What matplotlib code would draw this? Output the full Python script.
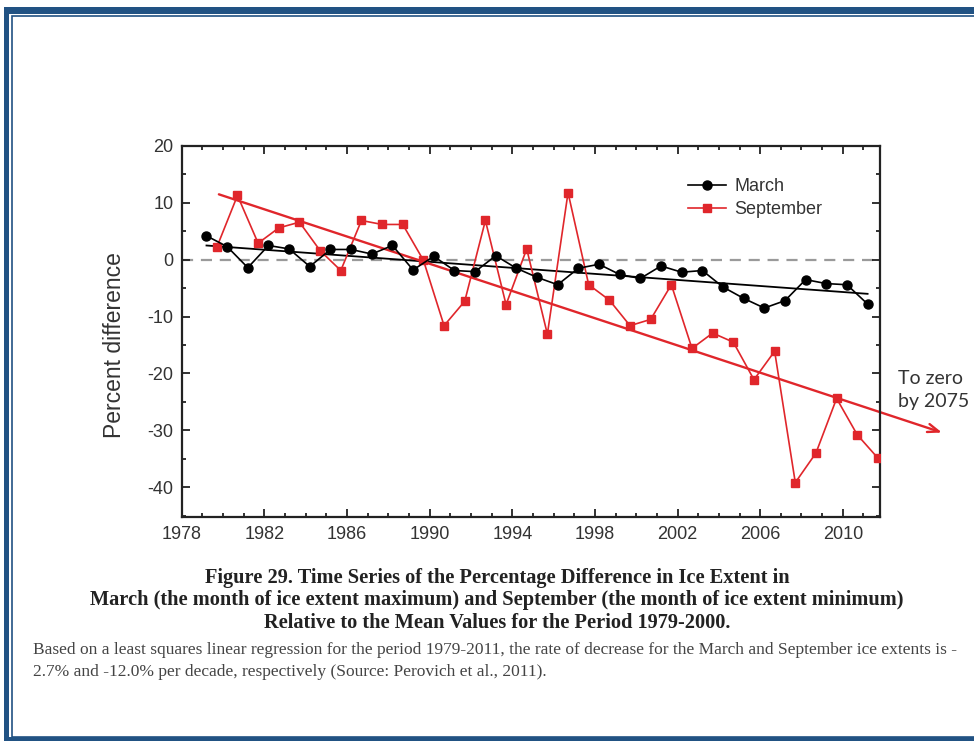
import numpy as np
import matplotlib
matplotlib.use("Agg")
import matplotlib.pyplot as plt
from matplotlib.patches import Rectangle
from matplotlib.ticker import MultipleLocator, FixedLocator

# ---------------------------------------------------------------
# data (percent difference vs 1979-2000 mean)
years = np.arange(1979, 2012)
march = [4.2, 2.3, -1.4, 2.5, 1.9, -1.2, 1.8, 1.8, 1.0, 2.5, -1.8,
         0.6, -1.9, -2.1, 0.7, -1.5, -3.1, -4.4, -1.5, -0.8, -2.6, -3.3,
         -1.1, -2.2, -1.9, -4.8, -6.8, -8.5, -7.2, -3.5, -4.2, -4.4, -7.8]
september = [2.2, 11.3, 2.9, 5.6, 6.6, 1.6, -1.9, 6.9, 6.2, 6.2, -0.1,
             -11.6, -7.3, 6.9, -7.9, 1.9, -13.1, 11.8, -4.4, -7.1, -11.6, -10.5,
             -4.4, -15.6, -12.9, -14.5, -21.1, -16.1, -39.2, -34.0, -24.4, -30.8, -34.9]
# month offsets within the year
march_x = years + 0.2
sept_x = years + 0.7

# regression lines (end points)
march_trend_x = [1979.2, 2011.2]
march_trend_y = [2.5, -6.0]
sept_trend_x = [1979.8, 2014.8]
sept_trend_y = [11.5, -30.4]

xticks = np.arange(1978, 2011, 4)

caption = ["Figure 29. Time Series of the Percentage Difference in Ice Extent in",
           "March (the month of ice extent maximum) and September (the month of ice extent minimum)",
           "Relative to the Mean Values for the Period 1979-2000."]
note = ["Based on a least squares linear regression for the period 1979-2011, the rate of decrease for the March and September ice extents is -",
        "2.7% and -12.0% per decade, respectively (Source: Perovich et al., 2011)."]

RED = "#e0262b"
BLUE = "#215283"
W, H = 974, 742

plt.rcParams["font.family"] = ["Liberation Sans", "DejaVu Sans"]
plt.rcParams["axes.unicode_minus"] = False

fig = plt.figure(figsize=(W / 100, H / 100), dpi=100)
fig.patch.set_facecolor("white")

def fx(px):
    return px / W

def fy(py):
    return 1 - py / H

# page frame
for (x0, y0, x1, y1) in [(4, 7, W + 5, 14), (4, 7, 9, 741), (4, 737, W + 5, 741)]:
    fig.add_artist(Rectangle((fx(x0), fy(y1)), fx(x1) - fx(x0), fy(y0) - fy(y1),
                             transform=fig.transFigure, color=BLUE, lw=0))
fig.add_artist(Rectangle((fx(12), fy(737)), fx(W + 20) - fx(12), fy(16.5) - fy(737),
                         transform=fig.transFigure, fill=False, ec=BLUE, lw=1.2))

##################################################################
ax = fig.add_axes([fx(181.7), fy(516.7), fx(880) - fx(181.7), fy(146) - fy(516.7)])

ax.axhline(0, color="#9a9a9a", ls=(0, (5, 3.5)), lw=1.6, zorder=1)

ax.plot(march_trend_x, march_trend_y, color="black", lw=1.3, zorder=2)
ax.annotate("", xy=(sept_trend_x[1], sept_trend_y[1]), xytext=(sept_trend_x[0], sept_trend_y[0]),
            xycoords="data", annotation_clip=False,
            arrowprops=dict(arrowstyle="->,head_length=0.8,head_width=0.3", color=RED, lw=1.7,
                            shrinkA=0, shrinkB=0), zorder=2)

ax.plot(sept_x, september, color=RED, marker="s", ms=5.5, lw=1.2, label="September", zorder=3)
ax.plot(march_x, march, color="black", marker="o", ms=6.5, lw=1.2, label="March", zorder=4)

ax.set_xlim(1978, 2011.8)
ax.set_ylim(-45.2, 20)
ax.xaxis.set_major_locator(FixedLocator(xticks))
ax.xaxis.set_minor_locator(MultipleLocator(1))
ax.yaxis.set_major_locator(MultipleLocator(10))
ax.yaxis.set_minor_locator(MultipleLocator(5))
ax.tick_params(which="both", direction="in", top=True, right=True, width=1.3,
               colors="#222222", labelcolor="#333333", labelsize=13)
ax.tick_params(which="major", length=6)
ax.tick_params(which="minor", length=3)
ax.tick_params(axis="x", pad=7)
ax.tick_params(axis="y", pad=6)
for s in ax.spines.values():
    s.set_linewidth(1.6)
    s.set_color("#222222")

ax.set_ylabel("Percent difference", fontsize=16.5, color="#333333")
ax.yaxis.set_label_coords(-0.08, 0.463)

handles, labels = ax.get_legend_handles_labels()
ax.legend(handles[::-1], labels[::-1], loc="upper left", bbox_to_anchor=(0.725, 0.914),
          frameon=False, fontsize=13, handlelength=2.1, handletextpad=0.45,
          labelspacing=0.35, borderpad=0, borderaxespad=0, numpoints=1,
          labelcolor="#333333")

fig.text(fx(898), fy(390), "To zero\nby 2075", fontsize=14, family="Lato",
         color="#333333", ha="left", va="center", linespacing=1.45)

##################################################################
for i, line in enumerate(caption):
    fig.text(fx(497), fy(578 + 22.5 * i), line, ha="center", va="center",
             family="Liberation Serif", weight="bold", fontsize=14.7, color="#222222")
for i, line in enumerate(note):
    fig.text(fx(33), fy(650 + 22 * i), line, ha="left", va="center",
             family="Liberation Serif", fontsize=12.5, color="#444444")

plt.savefig("out.png", dpi=100)
